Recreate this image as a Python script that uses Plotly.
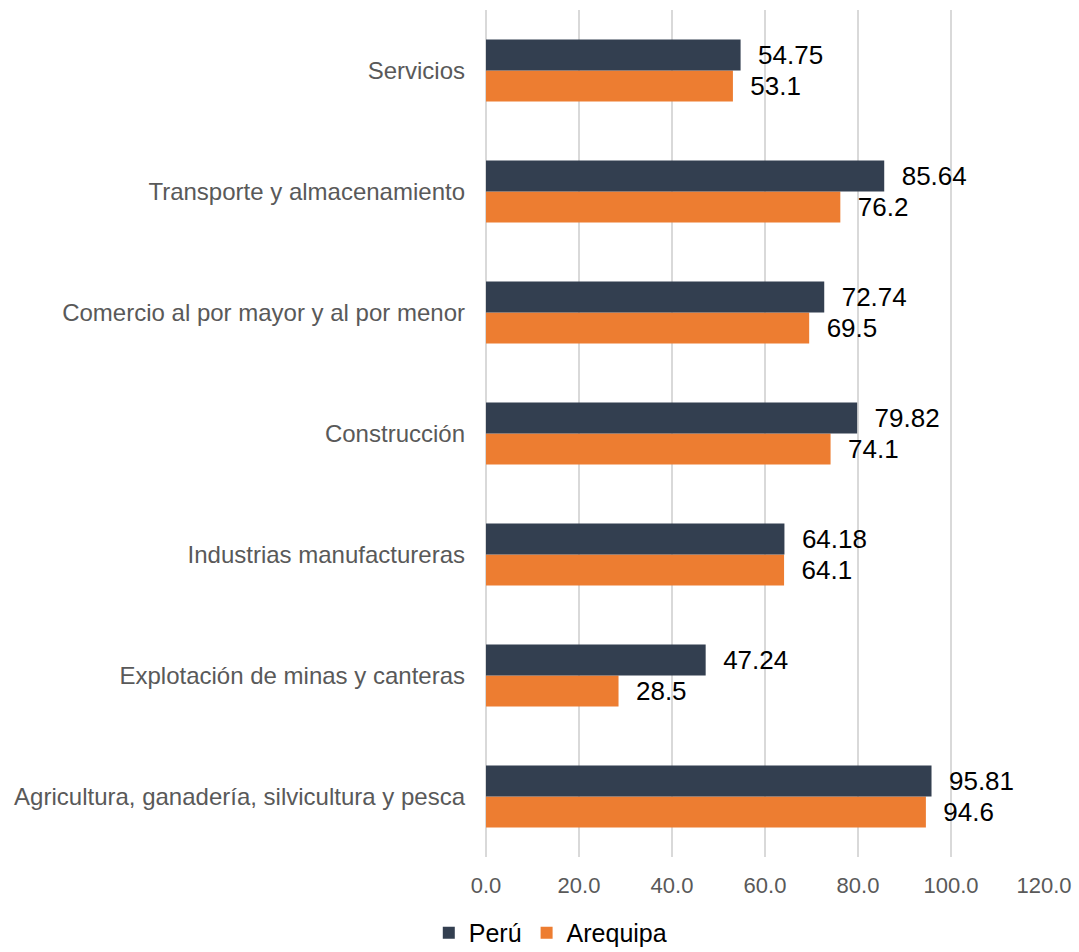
import plotly.graph_objects as go

categories = [
    "Agricultura, ganadería, silvicultura y pesca",
    "Explotación de minas y canteras",
    "Industrias manufactureras",
    "Construcción",
    "Comercio al por mayor y al por menor",
    "Transporte y almacenamiento",
    "Servicios",
]
peru = [95.81, 47.24, 64.18, 79.82, 72.74, 85.64, 54.75]
arequipa = [94.6, 28.5, 64.1, 74.1, 69.5, 76.2, 53.1]
x_ticks = [0, 20, 40, 60, 80, 100, 120]
x_tick_labels = ["0.0", "20.0", "40.0", "60.0", "80.0", "100.0", "120.0"]

FONT = "Liberation Sans, Arial, sans-serif"
NB = "\u00a0\u00a0"

fig = go.Figure()
fig.add_trace(go.Bar(
    y=categories, x=arequipa, name="Arequipa", orientation="h",
    marker=dict(color="#ED7D31", line=dict(width=0)),
    text=[NB + str(v) for v in arequipa], textposition="outside",
    textfont=dict(family=FONT, size=26, color="#000000"),
    cliponaxis=False, legendrank=2,
))
fig.add_trace(go.Bar(
    y=categories, x=peru, name="Perú", orientation="h",
    marker=dict(color="#333F50", line=dict(width=0)),
    text=[NB + str(v) for v in peru], textposition="outside",
    textfont=dict(family=FONT, size=26, color="#000000"),
    cliponaxis=False, legendrank=1,
))

fig.update_layout(
    width=1079, height=952,
    margin=dict(l=486, r=35, t=10, b=95),
    barmode="group", bargap=0.488, bargroupgap=0,
    plot_bgcolor="white", paper_bgcolor="white",
    font=dict(family=FONT, color="#595959"),
    showlegend=True,
    legend=dict(
        orientation="h", xref="container", yref="container",
        x=0.51, xanchor="center", y=0.02, yanchor="middle",
        font=dict(family=FONT, size=25, color="#000000"),
        itemwidth=30, traceorder="normal",
    ),
)
fig.update_xaxes(
    range=[0, 120], tickvals=x_ticks, ticktext=x_tick_labels,
    showgrid=True, gridcolor="#D9D9D9", gridwidth=1.5,
    zeroline=True, zerolinecolor="#D9D9D9", zerolinewidth=1.5,
    showline=False, ticks="",
    tickfont=dict(family=FONT, size=22, color="#595959"),
    ticklabelstandoff=13, automargin=False,
)
fig.update_yaxes(
    categoryorder="array", categoryarray=categories,
    range=[-0.5, 6.5],
    showgrid=False, showline=False, ticks="",
    tickfont=dict(family=FONT, size=24, color="#595959"),
    ticklabelstandoff=20, automargin=False,
)

fig.write_html(
    "out.html",
    config={"displayModeBar": False},
    post_script="document.body.style.margin='0px';document.body.style.overflow='hidden';",
)
